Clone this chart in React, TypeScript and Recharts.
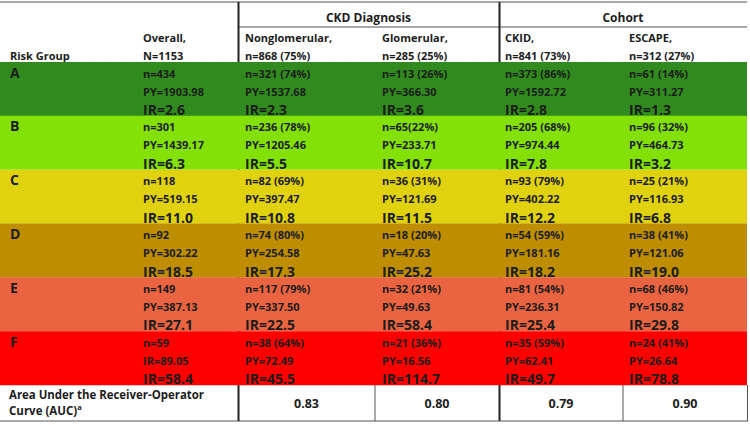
import React from 'react';
import { BarChart, Bar, XAxis, YAxis, Cell, LabelList, Customized } from 'recharts';

// risk groups (rows) and their band colours
const groups = ['A', 'B', 'C', 'D', 'E', 'F'];
const groupColors = ['#318a1d', '#84e108', '#e1d20f', '#be8e00', '#ea6441', '#fe0000'];

// Overall, N=1153
const overallN = ['434', '301', '118', '92', '149', '59'];
const overallPY = [1903.98, 1439.17, 519.15, 302.22, 387.13, 89.05];
const overallPYTag = ['PY', 'PY', 'PY', 'PY', 'PY', 'IR']; // printed this way in the source
const overallIR = [2.6, 6.3, 11.0, 18.5, 27.1, 58.4];

// CKD diagnosis
const nonglomN = ['321 (74%)', '236 (78%)', '82 (69%)', '74 (80%)', '117 (79%)', '38 (64%)'];
const nonglomPY = [1537.68, 1205.46, 397.47, 254.58, 337.5, 72.49];
const nonglomIR = [2.3, 5.5, 10.8, 17.3, 22.5, 45.5];

const glomN = ['113 (26%)', '65(22%)', '36 (31%)', '18 (20%)', '32 (21%)', '21 (36%)'];
const glomPY = [366.3, 233.71, 121.69, 47.63, 49.63, 16.56];
const glomIR = [3.6, 10.7, 11.5, 25.2, 58.4, 114.7];

// Cohort
const ckidN = ['373 (86%)', '205 (68%)', '93 (79%)', '54 (59%)', '81 (54%)', '35 (59%)'];
const ckidPY = [1592.72, 974.44, 402.22, 181.16, 236.31, 62.41];
const ckidIR = [2.8, 7.8, 12.2, 18.2, 25.4, 49.7];

const escapeN = ['61 (14%)', '96 (32%)', '25 (21%)', '38 (41%)', '68 (46%)', '24 (41%)'];
const escapePY = [311.27, 464.73, 116.93, 121.06, 150.82, 26.64];
const escapeIR = [1.3, 3.2, 6.8, 19.0, 29.8, 78.8];

const columnTitles = [
  ['Overall,', 'N=1153'],
  ['Nonglomerular,', 'n=868 (75%)'],
  ['Glomerular,', 'n=285 (25%)'],
  ['CKID,', 'n=841 (73%)'],
  ['ESCAPE,', 'n=312 (27%)'],
];
const aucValues = ['0.83', '0.80', '0.79', '0.90'];

const columns = [
  { n: overallN, py: overallPY, ir: overallIR },
  { n: nonglomN, py: nonglomPY, ir: nonglomIR },
  { n: glomN, py: glomPY, ir: glomIR },
  { n: ckidN, py: ckidPY, ir: ckidIR },
  { n: escapeN, py: escapePY, ir: escapeIR },
];

const rows = groups.map((group) => ({ group, band: 1 }));

// layout
const FONT = '"Open Sans", Lato, sans-serif';
const INK = '#1c1c1c';
const colX = [143, 245, 382, 505, 629];
const edges = [0, 238, 375, 499, 623, 747];
const TOP = 62;
const BOTTOM = 385;
const FOOT = 421;

const T = ({ x, y, size, anchor, children, ...rest }: any) => (
  <text
    x={x}
    y={y}
    fontSize={size}
    fontFamily={FONT}
    fontWeight={700}
    fill={INK}
    textAnchor={anchor || 'start'}
    style={{ fontWeight: 700 }}
    {...rest}
  >
    {children}
  </text>
);

const RowText = (props: any) => {
  const { x, y, value } = props;
  const i = groups.indexOf(value);
  if (i < 0) return null;
  return (
    <g>
      <T x={x + 10} y={y + 15.5} size={14}>{value}</T>
      {columns.map((c, k) => (
        <g key={k}>
          <T x={colX[k]} y={y + 15.5} size={11}>{`n=${c.n[i]}`}</T>
          <T x={colX[k]} y={y + 33.5} size={11}>
            {`${k === 0 ? overallPYTag[i] : 'PY'}=${c.py[i].toFixed(2)}`}
          </T>
          <T x={colX[k]} y={y + 53} size={14}>{`IR=${c.ir[i].toFixed(1)}`}</T>
        </g>
      ))}
    </g>
  );
};

const TableFrame = () => (
  <g>
    {/* header */}
    <line x1={0} x2={747} y1={2} y2={2} stroke="#555" strokeWidth={1} />
    <line x1={238} x2={747} y1={27} y2={27} stroke="#555" strokeWidth={1} />
    <T x={(edges[1] + edges[3]) / 2} y={22} size={12} anchor="middle">CKD Diagnosis</T>
    <T x={(edges[3] + edges[5]) / 2} y={22} size={12} anchor="middle">Cohort</T>
    <T x={10} y={59.5} size={11}>Risk Group</T>
    {columnTitles.map((t, k) => (
      <g key={k}>
        <T x={colX[k]} y={41.5} size={11}>{t[0]}</T>
        <T x={colX[k]} y={59.5} size={11}>{t[1]}</T>
      </g>
    ))}

    {/* AUC row */}
    <T x={9} y={398.5} size={11.5} textLength={195} lengthAdjust="spacingAndGlyphs">
      Area Under the Receiver-Operator
    </T>
    <T x={9} y={414.5} size={11.5}>
      Curve (AUC)<tspan fontSize={7.5} dy={-5}>a</tspan>
    </T>
    {aucValues.map((v, k) => (
      <T key={v + k} x={(edges[k + 1] + edges[k + 2]) / 2} y={408} size={12.5} anchor="middle">{v}</T>
    ))}
    <line x1={375} x2={375} y1={BOTTOM} y2={FOOT} stroke="#555" strokeWidth={1} />
    <line x1={623} x2={623} y1={BOTTOM} y2={FOOT} stroke="#555" strokeWidth={1} />
    <line x1={747.5} x2={747.5} y1={BOTTOM} y2={FOOT} stroke="#555" strokeWidth={1} />
    <line x1={0} x2={748} y1={FOOT} y2={FOOT} stroke="#555" strokeWidth={1} />

    {/* group dividers */}
    <line x1={238.5} x2={238.5} y1={2} y2={FOOT} stroke="#222" strokeWidth={2} />
    <line x1={499.5} x2={499.5} y1={2} y2={FOOT} stroke="#222" strokeWidth={2} />
  </g>
);

const App: React.FC = () => (
  <div style={{ position: 'absolute', left: 0, top: 0, width: 750, height: 425, background: '#fff' }}>
    <BarChart
      width={750}
      height={425}
      layout="vertical"
      data={rows}
      margin={{ top: TOP, right: 3, bottom: 425 - BOTTOM, left: 0 }}
      barCategoryGap={0}
    >
      <XAxis type="number" domain={[0, 1]} hide />
      <YAxis type="category" dataKey="group" hide width={0} />
      <Bar dataKey="band" isAnimationActive={false}>
        {rows.map((r, i) => (
          <Cell key={r.group} fill={groupColors[i]} />
        ))}
        <LabelList dataKey="group" content={RowText} />
      </Bar>
      <Customized component={<TableFrame />} />
    </BarChart>
  </div>
);

export default App;
